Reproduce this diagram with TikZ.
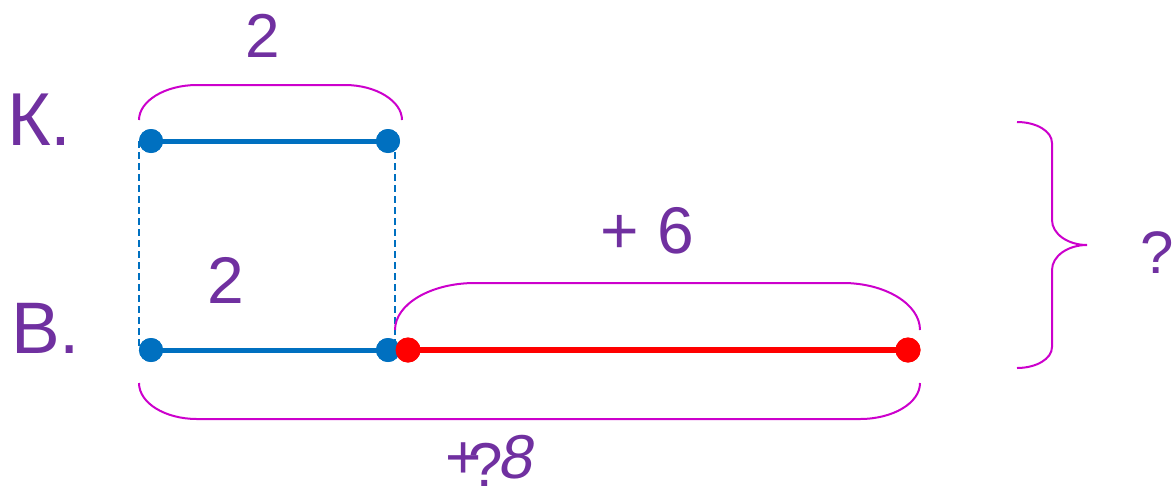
\documentclass[tikz,border=0pt]{standalone}
\usepackage{fontspec}
\setmainfont{Liberation Sans}
\newfontfamily\slantfont[FakeSlant=0.18]{Liberation Sans}
\definecolor{txt}{HTML}{7030A0}
\definecolor{lineblue}{HTML}{0070C0}
\definecolor{linered}{HTML}{FF0000}
\definecolor{mag}{HTML}{CC00CC}
\begin{document}
\begin{tikzpicture}[x=1pt,y=-1pt,
  dotb/.style={circle,fill=lineblue,inner sep=0pt,minimum size=24pt},
  dotr/.style={circle,fill=linered,inner sep=0pt,minimum size=25pt},
  segb/.style={draw=lineblue,line width=5pt},
  segr/.style={draw=linered,line width=5.5pt},
  guide/.style={draw=lineblue,line width=1.8pt,dash pattern=on 7pt off 4pt},
  brace/.style={draw=mag,line width=2pt},
  lbl/.style={text=txt,inner sep=0pt}]
\useasboundingbox (0,0) rectangle (1175,488);

% dots (positions)
\path (151,141) node[dotb] (k1) {} (388,141) node[dotb] (k2) {}
      (151,350) node[dotb] (b1) {} (388,350) node[dotb] (b2) {}
      (408,350) node[dotr] (r1) {} (908,350) node[dotr] (r2) {};

% dashed guides
\draw[guide] (k1.west) -- (b1.west);
\draw[guide] ([xshift=7pt]k2.center) -- ([xshift=7pt]b2.center);

% segments
\draw[segb] (k1.center) -- (k2.center);
\draw[segb] (b1.center) -- (b2.center);
\draw[segr] (r1.center) -- (r2.center);

% redraw dots on top
\path (151,141) node[dotb] {} (388,141) node[dotb] {}
      (151,350) node[dotb] {} (388,350) node[dotb] {}
      (408,350) node[dotr] {} (908,350) node[dotr] {};

% braces
\draw[brace] (139,120) .. controls (139,101) and (165,85) .. (197,85)
  -- (345,85) .. controls (376,85) and (402,101) .. (402,120);
\draw[brace] (395,330) .. controls (395,304) and (431,283) .. (475,283)
  -- (843,283) .. controls (885,283) and (920,304) .. (920,330);
\draw[brace] (139,383) .. controls (139,403) and (165,419) .. (197,419)
  -- (860,419) .. controls (893,419) and (920,403) .. (920,383);
\draw[brace] (1017,122) .. controls (1036,122) and (1052,131) .. (1052,143)
  -- (1052,220) .. controls (1052,234) and (1068,245) .. (1087,245)
  .. controls (1068,245) and (1052,256) .. (1052,270)
  -- (1052,347) .. controls (1052,359) and (1036,368) .. (1017,368);

% labels
\node[lbl,anchor=base west,font=\fontsize{75}{80}\selectfont] (lk) at (7,145) {К.};
\node[lbl,anchor=base west,font=\fontsize{73}{80}\selectfont] (lv) at (11,353) {В.};
\node[lbl,anchor=base,font=\fontsize{62}{70}\selectfont] (t2) at (263,57) {2};
\node[lbl,anchor=base,font=\fontsize{66}{70}\selectfont] (m2) at (226,303) {2};
\node[lbl,anchor=base,font=\fontsize{66}{70}\selectfont] (p6) at (647,253) {+ 6};
\node[lbl,anchor=base west,font=\fontsize{60}{70}\selectfont] (q) at (1140,273) {?};
\node[lbl,anchor=base west,font=\fontsize{62}{70}\selectfont] (sum) at (445,478)
  {+\kern-13pt\raisebox{-8pt}{?}\kern-5pt{\slantfont 8}};
\end{tikzpicture}
\end{document}
